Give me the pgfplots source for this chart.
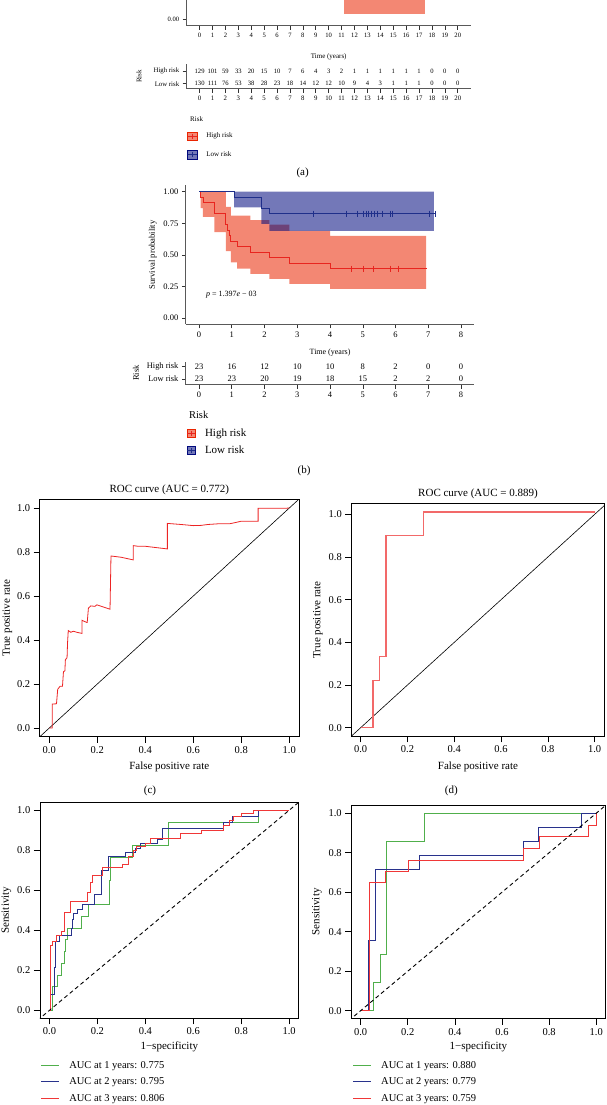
\documentclass[border=0pt]{standalone}
\usepackage{pgfplots}
\pgfplotsset{compat=1.18}
\usepackage{fontspec}
\setmainfont{Liberation Serif}
\newcommand{\fsz}[1]{\fontsize{#1}{#1}\selectfont}
\definecolor{kmred}{RGB}{234,36,0}
\definecolor{kmblue}{RGB}{0,9,125}
\definecolor{kmredline}{RGB}{232,37,31}
\definecolor{kmblueline}{RGB}{31,47,138}
\definecolor{rocred}{RGB}{236,36,36}
\definecolor{rocredlt}{RGB}{242,105,105}
\definecolor{tdgreen}{RGB}{80,175,75}
\definecolor{tdblue}{RGB}{40,50,140}
\definecolor{tdred}{RGB}{240,55,55}

\pgfplotsset{
  /pgf/number format/assume math mode=true,
  kmbase/.style={scale only axis, anchor=south west, axis lines=left,
    axis line style={-, line width=1.1pt, black!65},
    tick align=outside, major tick length=4pt, tick style={black!80, line width=0.6pt}},
  tabnum/.style={forget plot, draw=none, nodes near coords, point meta=explicit symbolic,
    every node near coord/.append style={anchor=center, text=black, font=\fsz{#1}}},
  rocbase/.style={scale only axis, anchor=south west,
    xmin=-0.04, xmax=1.04, ymin=-0.04, ymax=1.04,
    tick pos=left, tick align=outside, major tick length=6pt,
    tick style={black, line width=0.6pt}, axis line style={line width=0.7pt},
    xtick={0,0.2,0.4,0.6,0.8,1}, ytick={0,0.2,0.4,0.6,0.8,1},
    xticklabel style={/pgf/number format/fixed, /pgf/number format/fixed zerofill, /pgf/number format/precision=1},
    yticklabel style={/pgf/number format/fixed, /pgf/number format/fixed zerofill, /pgf/number format/precision=1},
    tick label style={font=\fsz{10.5}}, label style={font=\fsz{11}},
    legend style={draw=none, fill=none, font=\fsz{10.5}, anchor=north west, row sep=4pt, column sep=7.5pt, inner sep=0pt, cells={anchor=west}},
    legend image code/.code={\draw[##1, line width=1pt] (0pt,0pt) -- (18pt,0pt);}},
}

\begin{document}
\begin{tikzpicture}
\useasboundingbox (0pt,0pt) rectangle (606pt,-1105pt);
\clip (0pt,0pt) rectangle (606pt,-1105pt);

% ---------------- (a) KM (bottom part only) ----------------
\begin{axis}[kmbase, at={(186.7pt,-25.6pt)}, width=284pt, height=138.9pt,
  xmin=-1, xmax=21, ymin=-0.05, ymax=1.05, xtick={0,1,...,20}, ytick={0},
  yticklabel style={/pgf/number format/fixed, /pgf/number format/fixed zerofill, /pgf/number format/precision=2},
  tick label style={font=\fsz{6.6}},
  xlabel={Time (years)}, xlabel style={font=\fsz{7}, at={(axis description cs:0.5,0)}, anchor=center, yshift=-31.1pt}]
\addplot[fill=kmred, fill opacity=0.55, draw=none] coordinates {(11.18,0.04) (17.49,0.04) (17.49,0.40) (11.18,0.40)} -- cycle;
\end{axis}

% ---------------- (a) risk table ----------------
\begin{axis}[kmbase, at={(186.7pt,-88.7pt)}, width=284pt, height=24.7pt,
  xmin=-1, xmax=21, ymin=0.606, ymax=2.55, xtick={0,1,...,20}, ytick={1,2}, yticklabels={Low risk,High risk},
  tick label style={font=\fsz{6.8}},
  ylabel={Risk}, ylabel style={font=\fsz{7}, at={(axis description cs:-0.168,0.5)}, anchor=center},
  legend style={at={(axis description cs:0.001,-1.7065)}, anchor=north west, draw=none, fill=none, font=\fsz{7}, row sep=8pt, column sep=6.7pt, inner sep=0pt, cells={anchor=west}}]
\addplot[tabnum=6.6] coordinates {(0,2)[129] (1,2)[101] (2,2)[59] (3,2)[33] (4,2)[20] (5,2)[15] (6,2)[10] (7,2)[7] (8,2)[6] (9,2)[4] (10,2)[3] (11,2)[2] (12,2)[1] (13,2)[1] (14,2)[1] (15,2)[1] (16,2)[1] (17,2)[1] (18,2)[0] (19,2)[0] (20,2)[0]};
\addplot[tabnum=6.6] coordinates {(0,1)[130] (1,1)[111] (2,1)[76] (3,1)[53] (4,1)[38] (5,1)[28] (6,1)[23] (7,1)[18] (8,1)[14] (9,1)[12] (10,1)[12] (11,1)[10] (12,1)[9] (13,1)[4] (14,1)[3] (15,1)[1] (16,1)[1] (17,1)[1] (18,1)[0] (19,1)[0] (20,1)[0]};
\addlegendimage{legend image code/.code={\fill[kmred, fill opacity=0.55] (0pt,-4.15pt) rectangle (9.7pt,4.15pt); \draw[kmredline, line width=0.8pt] (0pt,0pt) -- (9.7pt,0pt) (4.85pt,-2.6pt) -- (4.85pt,2.6pt);}}
\addlegendentry{High risk}
\addlegendimage{legend image code/.code={\fill[kmblue, fill opacity=0.55] (0pt,-4.15pt) rectangle (9.7pt,4.15pt); \draw[kmblueline, line width=0.8pt] (0pt,0pt) -- (9.7pt,0pt) (4.85pt,-2.6pt) -- (4.85pt,2.6pt);}}
\addlegendentry{Low risk}
\end{axis}
\node[anchor=west, font=\fsz{7}] at (186.7pt,-119pt) {Risk};
\node[font=\fsz{11}] at (302.6pt,-172.7pt) {(a)};

% ---------------- (b) KM ----------------
\begin{axis}[kmbase, at={(185.9pt,-324.3pt)}, width=288.3pt, height=138.9pt,
  xmin=-0.4, xmax=8.4, ymin=-0.05, ymax=1.05, xtick={0,1,...,8}, ytick={0,0.25,0.5,0.75,1},
  yticklabel style={/pgf/number format/fixed, /pgf/number format/fixed zerofill, /pgf/number format/precision=2},
  tick label style={font=\fsz{8.5}},
  xlabel={Time (years)}, xlabel style={font=\fsz{8}, at={(axis description cs:0.5,0)}, anchor=center, yshift=-28pt},
  ylabel={Survival probability}, ylabel style={font=\fsz{8.6}, at={(axis description cs:-0.115,0.5)}, anchor=center}]
\addplot[fill=kmred, fill opacity=0.55, draw=none] coordinates {(0,1) (0.82,1) (0.82,0.88) (0.97,0.88) (0.97,0.81) (1.57,0.81) (1.57,0.775) (2.15,0.775) (2.15,0.74) (2.76,0.74) (2.76,0.69) (4.0,0.69) (4.0,0.65) (6.93,0.65) (6.93,0.23) (4.0,0.23) (4.0,0.27) (2.76,0.27) (2.76,0.31) (2.15,0.31) (2.15,0.35) (1.57,0.35) (1.57,0.39) (1.16,0.39) (1.16,0.44) (0.97,0.44) (0.97,0.53) (0.82,0.53) (0.82,0.68) (0.47,0.68) (0.47,0.80) (0.12,0.80) (0.12,0.87) (0.05,0.87) (0.05,1)} -- cycle;
\addplot[fill=kmblue, fill opacity=0.55, draw=none] coordinates {(1.07,1) (7.17,1) (7.17,0.689) (2.15,0.689) (2.15,0.745) (1.90,0.745) (1.90,0.876) (1.07,0.876)} -- cycle;
\addplot[kmredline, line width=0.8pt] coordinates {(0,1) (0.05,1) (0.05,0.957) (0.12,0.957) (0.12,0.913) (0.47,0.913) (0.47,0.826) (0.82,0.826) (0.82,0.739) (0.88,0.739) (0.88,0.696) (0.93,0.696) (0.93,0.652) (0.97,0.652) (0.97,0.609) (1.16,0.609) (1.16,0.565) (1.57,0.565) (1.57,0.522) (2.15,0.522) (2.15,0.478) (2.76,0.478) (2.76,0.435) (4.0,0.435) (4.0,0.39) (6.95,0.39)};
\addplot[kmblueline, line width=0.8pt] coordinates {(0,1) (1.07,1) (1.07,0.957) (1.90,0.957) (1.90,0.870) (2.15,0.870) (2.15,0.826) (7.2,0.826)};
\addplot[only marks, mark=|, mark size=3pt, kmredline, mark options={line width=0.6pt}] coordinates {(4.64,0.39) (5.02,0.39) (5.33,0.39) (5.84,0.39) (6.08,0.39)};
\addplot[only marks, mark=|, mark size=3pt, kmblueline, mark options={line width=0.6pt}] coordinates {(3.49,0.826) (4.51,0.826) (4.84,0.826) (5.01,0.826) (5.10,0.826) (5.17,0.826) (5.26,0.826) (5.34,0.826) (5.43,0.826) (5.61,0.826) (5.84,0.826) (5.90,0.826) (7.02,0.826) (7.2,0.826)};
\node[anchor=west, font=\fsz{8}] at (axis cs:0.107,0.182) {\textit{p} = 1.397\textit{e} − 03};
\end{axis}

% ---------------- (b) risk table ----------------
\begin{axis}[kmbase, at={(185.9pt,-384.7pt)}, width=288.3pt, height=23pt,
  xmin=-0.4, xmax=8.4, ymin=0.537, ymax=2.41, xtick={0,1,...,8}, ytick={1,2}, yticklabels={Low risk,High risk},
  tick label style={font=\fsz{8.4}},
  ylabel={Risk}, ylabel style={font=\fsz{8.5}, at={(axis description cs:-0.173,0.5)}, anchor=center},
  legend style={at={(axis description cs:0.0014,-1.8196)}, anchor=north west, draw=none, fill=none, font=\fsz{11}, row sep=4pt, column sep=7.2pt, inner sep=0pt, cells={anchor=west}}]
\addplot[tabnum=8.5] coordinates {(0,2)[23] (1,2)[16] (2,2)[12] (3,2)[10] (4,2)[10] (5,2)[8] (6,2)[2] (7,2)[0] (8,2)[0]};
\addplot[tabnum=8.5] coordinates {(0,1)[23] (1,1)[23] (2,1)[20] (3,1)[19] (4,1)[18] (5,1)[15] (6,1)[2] (7,1)[2] (8,1)[0]};
\addlegendimage{legend image code/.code={\fill[kmred, fill opacity=0.55] (0pt,-4.15pt) rectangle (8.5pt,4.15pt); \draw[kmredline, line width=0.8pt] (0pt,0pt) -- (8.5pt,0pt) (4.25pt,-2.6pt) -- (4.25pt,2.6pt);}}
\addlegendentry{High risk}
\addlegendimage{legend image code/.code={\fill[kmblue, fill opacity=0.55] (0pt,-4.15pt) rectangle (8.5pt,4.15pt); \draw[kmblueline, line width=0.8pt] (0pt,0pt) -- (8.5pt,0pt) (4.25pt,-2.6pt) -- (4.25pt,2.6pt);}}
\addlegendentry{Low risk}
\end{axis}
\node[anchor=west, font=\fsz{10.5}] at (185.5pt,-415.3pt) {Risk};
\node[font=\fsz{11}] at (304pt,-471pt) {(b)};

% ---------------- (c) ROC ----------------
\begin{axis}[rocbase, at={(39.7pt,-736.8pt)}, width=259.2pt, height=237.6pt,
  xlabel={False positive rate}, ylabel={True positive rate},
  xlabel style={at={(axis description cs:0.5,-0.1258)}, anchor=center},
  ylabel style={at={(axis description cs:-0.1242,0.5)}, anchor=center}]
\addplot[black, line width=0.6pt] coordinates {(-0.05,-0.05) (1.05,1.05)};
\addplot[rocred, line width=0.8pt] coordinates {(0,0) (0.0125,0) (0.0125,0.109) (0.03,0.11) (0.035,0.176) (0.045,0.19) (0.055,0.19) (0.059,0.256) (0.065,0.26) (0.067,0.31) (0.074,0.32) (0.076,0.386) (0.079,0.443) (0.09,0.435) (0.10,0.44) (0.115,0.435) (0.128,0.432) (0.136,0.43) (0.136,0.49) (0.155,0.48) (0.158,0.48) (0.163,0.545) (0.173,0.555) (0.19,0.553) (0.198,0.56) (0.253,0.54) (0.255,0.66) (0.257,0.782) (0.30,0.776) (0.35,0.764) (0.35,0.829) (0.37,0.826) (0.40,0.826) (0.492,0.814) (0.492,0.930) (0.55,0.925) (0.60,0.92) (0.632,0.921) (0.66,0.925) (0.70,0.928) (0.75,0.928) (0.78,0.935) (0.80,0.94) (0.87,0.94) (0.87,0.999) (0.986,0.999) (1,1)};
\end{axis}
\node[font=\fsz{11}] at (169.3pt,-490pt) {ROC curve (AUC = 0.772)};
\node[font=\fsz{11}] at (150pt,-790.7pt) {(c)};

% ---------------- (d) ROC ----------------
\begin{axis}[rocbase, at={(351.3pt,-736.3pt)}, width=253.4pt, height=232.9pt,
  xmin=-0.04, xmax=1.043, ymin=-0.0404, ymax=1.0514,
  xlabel={False positive rate}, ylabel={True positive rate},
  xlabel style={at={(axis description cs:0.5,-0.1305)}, anchor=center},
  ylabel style={at={(axis description cs:-0.1314,0.5)}, anchor=center}]
\addplot[black, line width=0.6pt] coordinates {(-0.05,-0.05) (1.06,1.06)};
\addplot[rocredlt, line width=1.3pt] coordinates {(0,0) (0.053,0) (0.053,0.222) (0.081,0.222) (0.081,0.333) (0.108,0.333) (0.108,0.9) (0.27,0.9) (0.27,1.011) (1.0,1.011)};
\end{axis}
\node[font=\fsz{11}] at (478pt,-494.3pt) {ROC curve (AUC = 0.889)};
\node[font=\fsz{11}] at (451.3pt,-790.7pt) {(d)};

% ---------------- (e) time ROC ----------------
\begin{axis}[rocbase, at={(39.9pt,-1018.3pt)}, width=258.8pt, height=216pt,
  xlabel={1−specificity}, ylabel={Sensitivity},
  xlabel style={at={(axis description cs:0.5,-0.1315)}, anchor=center},
  ylabel style={at={(axis description cs:-0.129,0.5)}, anchor=center},
  legend style={at={(axis description cs:0.0027,-0.188)}}]
\addplot[tdgreen, line width=0.9pt] coordinates {(0,0) (0.012,0) (0.012,0.118) (0.033,0.118) (0.033,0.176) (0.051,0.176) (0.051,0.235) (0.063,0.235) (0.063,0.294) (0.068,0.294) (0.068,0.353) (0.076,0.353) (0.076,0.41) (0.134,0.41) (0.134,0.47) (0.162,0.47) (0.162,0.53) (0.25,0.53) (0.25,0.647) (0.256,0.647) (0.256,0.765) (0.345,0.765) (0.345,0.824) (0.498,0.824) (0.498,0.941) (0.872,0.941) (0.872,1) (1,1)};
\addlegendentry{AUC at 1 years: 0.775}
\addplot[tdblue, line width=0.9pt] coordinates {(0,0) (0.006,0) (0.006,0.077) (0.019,0.077) (0.019,0.215) (0.026,0.215) (0.026,0.343) (0.041,0.343) (0.041,0.376) (0.09,0.376) (0.09,0.41) (0.097,0.41) (0.097,0.455) (0.102,0.455) (0.102,0.485) (0.118,0.485) (0.118,0.505) (0.138,0.505) (0.138,0.527) (0.187,0.527) (0.187,0.577) (0.215,0.577) (0.215,0.697) (0.248,0.697) (0.248,0.768) (0.318,0.768) (0.318,0.788) (0.358,0.788) (0.358,0.81) (0.378,0.81) (0.378,0.835) (0.45,0.835) (0.45,0.855) (0.47,0.855) (0.47,0.91) (0.728,0.91) (0.728,0.94) (0.765,0.94) (0.765,0.97) (0.872,0.97) (0.872,1) (1,1)};
\addlegendentry{AUC at 2 years: 0.795}
\addplot[tdred, line width=0.9pt] coordinates {(0,0) (0.002,0) (0.002,0.323) (0.013,0.323) (0.013,0.343) (0.027,0.343) (0.027,0.376) (0.051,0.376) (0.051,0.396) (0.062,0.396) (0.062,0.49) (0.088,0.49) (0.088,0.543) (0.158,0.543) (0.158,0.588) (0.169,0.588) (0.169,0.638) (0.18,0.638) (0.18,0.672) (0.221,0.672) (0.221,0.715) (0.306,0.715) (0.306,0.731) (0.33,0.731) (0.33,0.768) (0.35,0.768) (0.35,0.797) (0.361,0.797) (0.361,0.818) (0.40,0.818) (0.40,0.835) (0.42,0.835) (0.42,0.86) (0.545,0.86) (0.545,0.885) (0.635,0.885) (0.635,0.90) (0.725,0.90) (0.725,0.925) (0.753,0.925) (0.753,0.95) (0.767,0.95) (0.767,0.968) (0.80,0.968) (0.80,0.985) (0.85,0.985) (0.85,1) (1,1)};
\addlegendentry{AUC at 3 years: 0.806}
\addplot[forget plot, black, line width=0.9pt, dash pattern=on 4pt off 3pt] coordinates {(-0.05,-0.05) (1.05,1.05)};
\end{axis}

% ---------------- (f) time ROC ----------------
\begin{axis}[rocbase, at={(351.2pt,-1018.6pt)}, width=254.5pt, height=213.3pt,
  xlabel={1−specificity}, ylabel={Sensitivity},
  xlabel style={at={(axis description cs:0.5,-0.1317)}, anchor=center},
  ylabel style={at={(axis description cs:-0.1344,0.5)}, anchor=center},
  legend style={at={(axis description cs:0.005,-0.1894)}}]
\addplot[tdgreen, line width=0.9pt] coordinates {(0,0) (0.053,0) (0.053,0.144) (0.085,0.144) (0.085,0.287) (0.111,0.287) (0.111,0.857) (0.272,0.857) (0.272,1.0) (1,1)};
\addlegendentry{AUC at 1 years: 0.880}
\addplot[tdblue, line width=0.9pt] coordinates {(0,0) (0.033,0) (0.033,0.358) (0.061,0.358) (0.061,0.716) (0.249,0.716) (0.249,0.786) (0.692,0.786) (0.692,0.856) (0.753,0.856) (0.753,0.929) (0.937,0.929) (0.937,1.0) (1,1)};
\addlegendentry{AUC at 2 years: 0.779}
\addplot[tdred, line width=0.9pt] coordinates {(0,0) (0.036,0) (0.036,0.648) (0.105,0.648) (0.105,0.707) (0.203,0.707) (0.203,0.763) (0.689,0.763) (0.689,0.82) (0.757,0.82) (0.757,0.88) (0.965,0.88) (0.965,0.94) (1.0,0.94) (1,1)};
\addlegendentry{AUC at 3 years: 0.759}
\addplot[forget plot, black, line width=0.9pt, dash pattern=on 4pt off 3pt] coordinates {(-0.05,-0.05) (1.05,1.05)};
\end{axis}
\end{tikzpicture}
\end{document}
